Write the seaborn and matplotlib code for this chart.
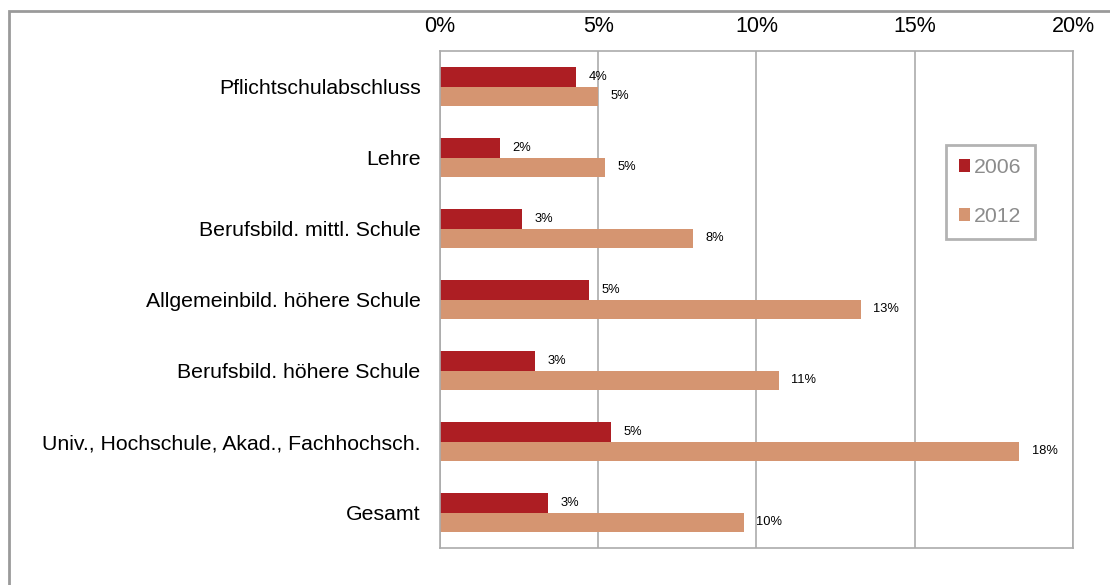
import matplotlib
matplotlib.use("Agg")
import matplotlib.pyplot as plt
import seaborn as sns
import pandas as pd
from matplotlib.patches import Rectangle

categories = ["Pflichtschulabschluss", "Lehre", "Berufsbild. mittl. Schule",
              "Allgemeinbild. höhere Schule", "Berufsbild. höhere Schule",
              "Univ., Hochschule, Akad., Fachhochsch.", "Gesamt"]
values_2006 = [4.3, 1.9, 2.6, 4.7, 3.0, 5.4, 3.4]
values_2012 = [5.0, 5.2, 8.0, 13.3, 10.7, 18.3, 9.6]
years = ["2006", "2012"]
xticks = [0, 5, 10, 15, 20]

sns.set_theme(style="white")
plt.rcParams["font.family"] = ["Liberation Sans", "DejaVu Sans"]

df = pd.DataFrame({
    "Kategorie": categories * 2,
    "Wert": values_2006 + values_2012,
    "Jahr": [years[0]] * len(categories) + [years[1]] * len(categories),
})

fig = plt.figure(figsize=(11.1, 5.85), dpi=100)
ax = fig.add_axes([440/1110, 1 - 548/585, (1073 - 440)/1110, (548 - 51)/585])

palette = {"2006": "#AD1E23", "2012": "#D59571"}
sns.barplot(data=df, y="Kategorie", x="Wert", hue="Jahr", hue_order=years,
            order=categories, palette=palette, orient="h", width=0.56,
            saturation=1, ax=ax, legend=True, errorbar=None,
            edgecolor="none", linewidth=0)

for cont in ax.containers:
    ax.bar_label(cont, labels=[f"{round(b.get_width()):.0f}%" for b in cont],
                 padding=9, fontsize=9.3, color="#000000")

ax.set_xlim(0, 20)
ax.set_xticks(xticks)
ax.set_xticklabels([f"{t}%" for t in xticks])
ax.xaxis.tick_top()
ax.xaxis.set_label_position("top")
ax.tick_params(axis="x", length=0, pad=10, labelsize=15.5, colors="#000000")
ax.tick_params(axis="y", length=0, pad=14, labelsize=15.3, colors="#000000")
ax.set_xlabel("")
ax.set_ylabel("")
ax.grid(axis="x", color="#ABABAB", linewidth=1.2)
ax.set_axisbelow(True)
for s in ax.spines.values():
    s.set_color("#ABABAB")
    s.set_linewidth(1.2)

leg = ax.legend(loc="upper left", bbox_to_anchor=(0.799, 0.811), frameon=True,
                fontsize=15.3, labelcolor="#8C8C8C", handlelength=0.52, handleheight=0.52,
                labelspacing=1.4, borderpad=0.62, handletextpad=0.2, fancybox=False,
                borderaxespad=0)
leg.get_frame().set_edgecolor("#A0A0A0")
leg.get_frame().set_linewidth(2)

fig.patches.append(Rectangle((9/1110, -0.1), 1.2, 1 - 11/585 + 0.1,
                             transform=fig.transFigure, fill=False,
                             edgecolor="#9A9A9A", linewidth=2))

fig.savefig("out.png", dpi=100, facecolor="white")
